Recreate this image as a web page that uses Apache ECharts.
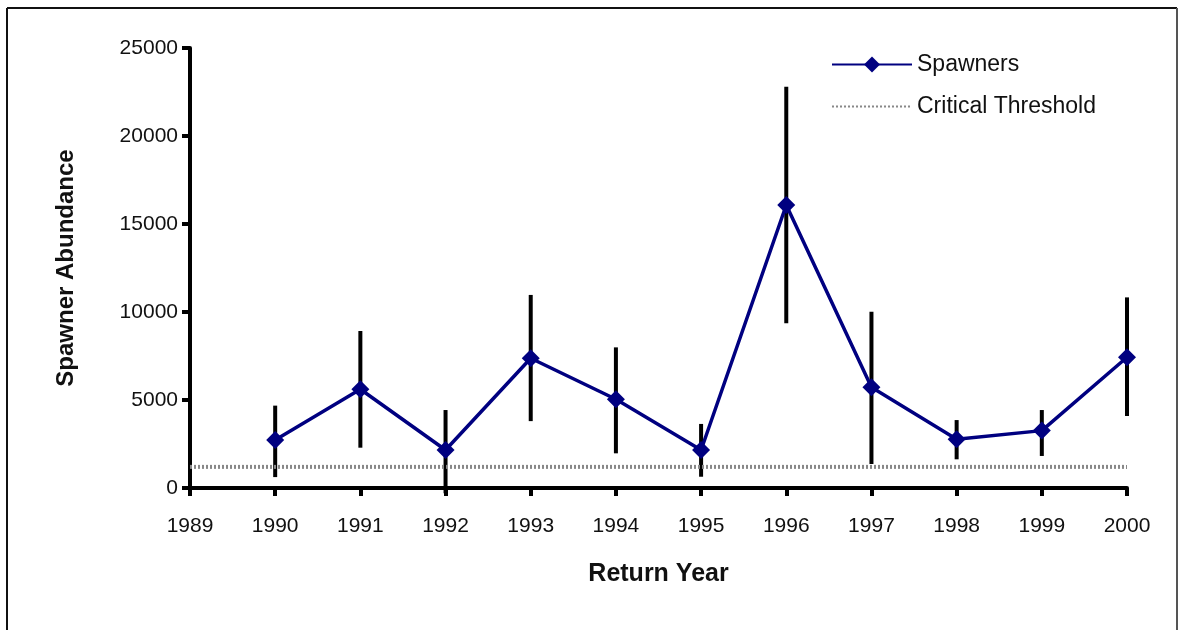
<!DOCTYPE html>
<html>
<head>
    <meta charset="utf-8">
    <title></title>
    <script src="https://cdn.jsdelivr.net/npm/echarts@6.0.0/dist/echarts.min.js"></script>
    <style>
        html, body { margin: 0; padding: 0; background: #fff; }
    </style>
</head>
<body>
    <div id="main" style="width: 1179px;height:630px;"></div>
    <script type="text/javascript">
// return years and spawner estimates
var years = [1990, 1991, 1992, 1993, 1994, 1995, 1996, 1997, 1998, 1999, 2000]
var spawners = [2730, 5610, 2160, 7370, 5040, 2160, 16080, 5720, 2770, 3260, 7430]
var errLow = [620, 2290, -300, 3800, 1970, 640, 9360, 1360, 1630, 1820, 4090]
var errHigh = [4680, 8920, 4430, 10970, 7990, 3640, 22800, 10020, 3860, 4430, 10830]
var thresholdYears = [1989, 2000]
var thresholdValue = 1200

var yTicks = [0, 5000, 10000, 15000, 20000, 25000]

var myChart = echarts.init(document.getElementById('main'))

var lineData = []
var barData = []
for (var i = 0; i < years.length; i++) {
  lineData.push([years[i], spawners[i]])
  barData.push([years[i], errLow[i], errHigh[i]])
}
var thrData = thresholdYears.map(function (y) { return [y, thresholdValue] })

var font = 'Liberation Sans, Arial, sans-serif'

option = {
  backgroundColor: '#fff',
  animation: false,
  textStyle: { fontFamily: font },
  grid: {
    left: 190,
    right: 52,
    top: 48,
    bottom: 142
  },
  legend: {
    orient: 'vertical',
    left: 826,
    top: 48,
    itemWidth: 80,
    itemHeight: 20,
    itemGap: 19,
    textStyle: { fontSize: 23, color: '#111', fontFamily: font },
    data: [
      { name: 'Spawners' },
      { name: 'Critical Threshold', itemStyle: { opacity: 0 } }
    ]
  },
  graphic: [
    { type: 'line', shape: { x1: 7, y1: 8, x2: 1177, y2: 8 }, style: { stroke: '#111', lineWidth: 2 } },
    { type: 'line', shape: { x1: 7, y1: 8, x2: 7, y2: 630 }, style: { stroke: '#111', lineWidth: 2 } },
    { type: 'line', shape: { x1: 1177, y1: 8, x2: 1177, y2: 630 }, style: { stroke: '#555', lineWidth: 2 } }
  ],
  xAxis: {
    type: 'value',
    min: 1989,
    max: 2000,
    interval: 1,
    name: 'Return Year',
    nameLocation: 'middle',
    nameGap: 74,
    nameTextStyle: { fontSize: 25, fontWeight: 'bold', color: '#111', fontFamily: font },
    axisLine: { lineStyle: { color: '#000', width: 4 } },
    axisTick: { length: 8, lineStyle: { color: '#000', width: 4 } },
    axisLabel: { fontSize: 21, color: '#111', margin: 28, formatter: function (v) { return String(v) } },
    splitLine: { show: false }
  },
  yAxis: {
    type: 'value',
    min: yTicks[0],
    max: yTicks[yTicks.length - 1],
    interval: 5000,
    name: 'Spawner Abundance',
    nameLocation: 'middle',
    nameGap: 112,
    nameTextStyle: { fontSize: 24, fontWeight: 'bold', color: '#111', fontFamily: font },
    axisLine: { show: true, lineStyle: { color: '#000', width: 4 } },
    axisTick: { show: true, length: 8, lineStyle: { color: '#000', width: 4 } },
    axisLabel: { fontSize: 21, color: '#111', margin: 12, formatter: function (v) { return String(v) } },
    splitLine: { show: false }
  },
  series: [{
    name: 'errors',
    type: 'custom',
    z: 1,
    clip: false,
    data: barData,
    encode: { x: 0, y: [1, 2] },
    renderItem: function (params, api) {
      var lo = api.coord([api.value(0), api.value(1)])
      var hi = api.coord([api.value(0), api.value(2)])
      return {
        type: 'line',
        shape: { x1: lo[0], y1: lo[1], x2: hi[0], y2: hi[1] },
        style: { stroke: '#000', lineWidth: 4 }
      }
    }
  }, {
    name: 'Critical Threshold',
    type: 'line',
    z: 2,
    data: thrData,
    symbol: 'none',
    itemStyle: { color: '#888' },
    lineStyle: { color: '#888', width: 4, type: [2, 2] }
  }, {
    name: 'Spawners',
    type: 'line',
    z: 3,
    data: lineData,
    symbol: 'diamond',
    symbolSize: 18,
    itemStyle: { color: '#000080' },
    lineStyle: { color: '#000080', width: 3.5 }
  }]
}
myChart.setOption(option)
    </script>
</body>
</html>
